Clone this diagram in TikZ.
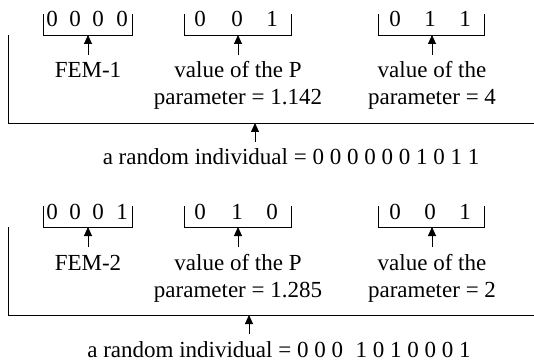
\documentclass[tikz,border=0pt]{standalone}
\usepackage{fontspec}
\setmainfont{Liberation Serif}
\usetikzlibrary{arrows.meta}
\newcommand{\fsz}{\fontsize{23}{27}\selectfont}
\tikzset{
  bar/.style={line width=0.9pt},
  arr/.style={line width=0.9pt,-{Triangle[width=8pt,length=9pt]}},
  txt/.style={font=\fsz, inner sep=0pt, anchor=base},
}
\begin{document}
\begin{tikzpicture}[x=1pt,y=-1pt]
\useasboundingbox (0,0) rectangle (534,363);
% ---------- section 1 ----------
\begin{scope}
% bracket 1
\node[txt] (a1) at (52,27) {0};
\node[txt] (a2) at (75,27) {0};
\node[txt] (a3) at (98,27) {0};
\node[txt] (a4) at (122,27) {0};
\draw[bar] (43,14) |- (132,35) -- (132,14);
\coordinate (ba) at (88,35);
% bracket 2
\node[txt] (b1) at (200,27) {0};
\node[txt] (b2) at (237,27) {0};
\node[txt] (b3) at (272,27) {1};
\draw[bar] (184,14) |- (291,35) -- (291,14);
\coordinate (bb) at (238,35);
% bracket 3
\node[txt] (c1) at (395,27) {0};
\node[txt] (c2) at (430,27) {1};
\node[txt] (c3) at (465,27) {1};
\draw[bar] (378,14) |- (484,35) -- (484,14);
\coordinate (bc) at (432,35);
% labels
\node[txt] (la) at (88,78) {FEM-1};
\node[txt] (lb1) at (238,78) {value of the P};
\node[txt] (lb2) at (238,105) {parameter = 1.142};
\node[txt] (lc1) at (432,78) {value of the};
\node[txt] (lc2) at (432,105) {parameter = 4};
\coordinate (ta) at (88,55);
\coordinate (tb) at (238,55);
\coordinate (tc) at (432,55);
\draw[arr] (ta) -- (ba);
\draw[arr] (tb) -- (bb);
\draw[arr] (tc) -- (bc);
% big bracket
\draw[bar] (8,35) |- (534,123);
\coordinate (bigtip) at (255,123);
\coordinate (bigtail) at (255,142);
\draw[arr] (bigtail) -- (bigtip);
\node[txt] (ri) at (291,165) {a random individual = 0 0 0 0 0 0 1 0 1 1};
\end{scope}
% ---------- section 2 ----------
\begin{scope}[yshift=-192pt]
\node[txt] (d1) at (52,27) {0};
\node[txt] (d2) at (75,27) {0};
\node[txt] (d3) at (98,27) {0};
\node[txt] (d4) at (122,27) {1};
\draw[bar] (43,14) |- (132,35) -- (132,14);
\coordinate (bd) at (88,35);
\node[txt] (e1) at (200,27) {0};
\node[txt] (e2) at (237,27) {1};
\node[txt] (e3) at (272,27) {0};
\draw[bar] (184,14) |- (291,35) -- (291,14);
\coordinate (be) at (238,35);
\node[txt] (f1) at (395,27) {0};
\node[txt] (f2) at (430,27) {0};
\node[txt] (f3) at (465,27) {1};
\draw[bar] (378,14) |- (484,35) -- (484,14);
\coordinate (bf) at (432,35);
\node[txt] (ld) at (88,78) {FEM-2};
\node[txt] (le1) at (238,78) {value of the P};
\node[txt] (le2) at (238,105) {parameter = 1.285};
\node[txt] (lf1) at (432,78) {value of the};
\node[txt] (lf2) at (432,105) {parameter = 2};
\coordinate (td) at (88,55);
\coordinate (te) at (238,55);
\coordinate (tf) at (432,55);
\draw[arr] (td) -- (bd);
\draw[arr] (te) -- (be);
\draw[arr] (tf) -- (bf);
\draw[bar] (8,35) |- (534,123);
\coordinate (bigtip2) at (249,123);
\coordinate (bigtail2) at (249,142);
\draw[arr] (bigtail2) -- (bigtip2);
\node[txt] (ri2) at (279,165) {a random individual = 0 0 0\hspace{0.3em} 1 0 1 0 0 0 1};
\end{scope}
\end{tikzpicture}
\end{document}
